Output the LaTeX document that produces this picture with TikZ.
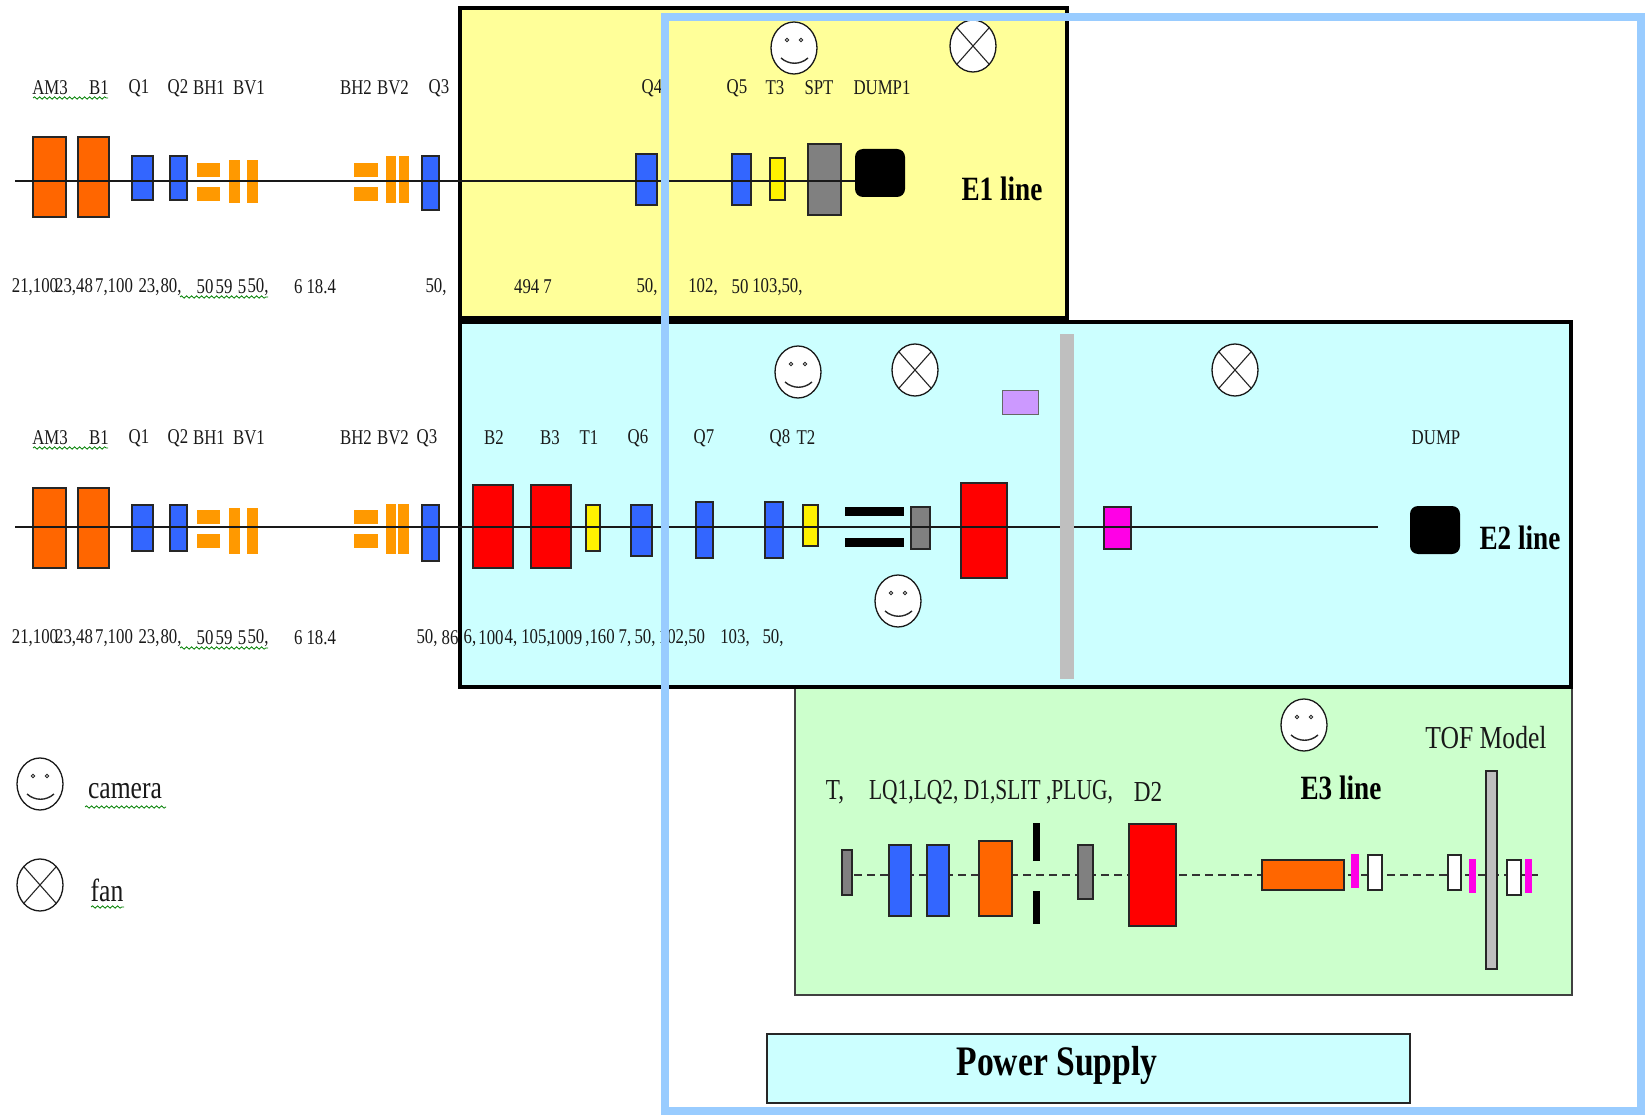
\documentclass[tikz,border=0pt]{standalone}
\usepackage{fontspec}
\setmainfont{Liberation Serif}
\newfontfamily\cond[FakeStretch=0.8]{Liberation Serif}
\newfontfamily\condn[FakeStretch=0.74]{Liberation Serif}
\usetikzlibrary{shapes.geometric,decorations.pathmorphing}
\definecolor{eoneY}{HTML}{FFFF99}
\definecolor{etwoC}{HTML}{CCFFFF}
\definecolor{ethreeG}{HTML}{CCFFCC}
\definecolor{frameB}{HTML}{99CCFF}
\definecolor{magO}{HTML}{FF6600}
\definecolor{corO}{HTML}{FF9900}
\definecolor{quadB}{HTML}{3366FF}
\definecolor{purp}{HTML}{CC99FF}
\definecolor{grayA}{HTML}{808080}
\definecolor{grayB}{HTML}{BFBFBF}
\definecolor{magP}{HTML}{FF00E6}
\tikzset{
 x=1pt,y=-1pt,
 every node/.style={inner sep=0pt,outer sep=0pt},
 magnet/.style={rectangle,draw=black!85,line width=1.6pt,fill=magO},
 corr/.style={rectangle,fill=corO},
 quad/.style={rectangle,draw=black!85,line width=1.6pt,fill=quadB},
 dipole/.style={rectangle,draw=black!85,line width=1.6pt,fill=red},
 target/.style={rectangle,draw=black!85,line width=1.6pt,fill=yellow},
 grayblk/.style={rectangle,draw=black!85,line width=1.6pt,fill=grayA},
 whiteblk/.style={rectangle,draw=black!85,line width=1.6pt,fill=white},
 magblk/.style={rectangle,fill=magP},
 blackblk/.style={rectangle,fill=black},
 dumpblk/.style={rectangle,fill=black,rounded corners=8pt},
 beam/.style={draw=black!90,line width=1.6pt},
 dashbeam/.style={draw=black!80,line width=1.7pt,dash pattern=on 8pt off 5pt},
 lbl/.style={font=\cond\fontsize{21}{23}\selectfont,text=black!90},
 lblb/.style={font=\cond\fontsize{29}{31}\selectfont,text=black!90},
 lbln/.style={font=\condn\fontsize{29}{31}\selectfont,text=black!90},
 lblc/.style={font=\cond\fontsize{32}{34}\selectfont,text=black!90},
 tit/.style={font=\cond\bfseries\fontsize{34}{36}\selectfont,text=black},
 squig/.style={draw=green!50!black,line width=.8pt,decorate,decoration={snake,amplitude=1.2pt,segment length=5pt}},
 icon/.style={ellipse,draw=black!90,line width=1.3pt,fill=white,minimum width=46pt,minimum height=52pt},
}
\newcommand\bx[6]{\node[#1,minimum width={#5-#3},minimum height={#6-#4}] (#2) at ({(#3+#5)/2},{(#4+#6)/2}) {};}
\newcommand\lb[5][lbl]{\node[#1] (#2) at (#3,#4) {#5};}
\newcommand\cam[3]{%
 \node[icon] (#1) at (#2,#3) {};
 \draw[black!85,line width=.9pt] (#2-7,#3-8) circle (1.8pt) (#2+7,#3-8) circle (1.8pt);
 \draw[black!85,line width=1.4pt] (#2-13,#3+10) .. controls (#2-5,#3+17) and (#2+6,#3+17) .. (#2+14,#3+10);}
\newcommand\fan[3]{%
 \node[icon] (#1) at (#2,#3) {};
 \draw[black!85,line width=1.1pt] (#1.north west) -- (#1.south east) (#1.north east) -- (#1.south west);}
\begin{document}
\begin{tikzpicture}
\useasboundingbox[fill=white] (0,0) rectangle (1647,1115);
% panels
\node[rectangle,draw=black,line width=4.5pt,fill=eoneY,minimum width=607,minimum height=310] (panelone) at (763.5,163) {};
\node[rectangle,draw=black!75,line width=1.5pt,fill=ethreeG,minimum width=777,minimum height=307] (panelthree) at (1183.5,841.5) {};
\node[rectangle,draw=black,line width=4pt,fill=etwoC,minimum width=1111,minimum height=365] (paneltwo) at (1015.5,504.5) {};
\node[rectangle,draw=black!85,line width=1.5pt,fill=etwoC,minimum width=643,minimum height=69] (panelfour) at (1088.5,1068.5) {};
% E1 elements
\bx{magnet}{aa}{33}{137}{66}{217}
\bx{magnet}{ab}{78}{137}{109}{217}
\bx{quad}{ac}{132}{156}{153}{200}
\bx{quad}{ad}{170}{156}{187}{200}
\bx{corr}{ae}{197}{163}{220}{177}
\bx{corr}{af}{197}{187}{220}{201}
\bx{corr}{ag}{229}{160}{240}{203}
\bx{corr}{ah}{247}{160}{258}{203}
\bx{corr}{ai}{354}{163}{378}{177}
\bx{corr}{aj}{354}{187}{378}{201}
\bx{corr}{ak}{386}{156}{396}{203}
\bx{corr}{al}{399}{156}{409}{203}
\bx{quad}{am}{422}{156}{439}{210}
\bx{quad}{an}{636}{154}{657}{205}
\bx{quad}{ao}{732}{154}{751}{205}
\bx{target}{ap}{770}{158}{785}{200}
\bx{grayblk}{aq}{808}{144}{841}{215}
\coordinate (ebeamas) at (15,181);
\coordinate (ebeamae) at (860,181);
\draw[beam] (ebeamas) -- (ebeamae);
\node[dumpblk,minimum width=50,minimum height=48] (dumpone) at (880,173) {};
% E2 elements
\bx{magnet}{ba}{33}{488}{66}{568}
\bx{magnet}{bb}{78}{488}{109}{568}
\bx{quad}{bc}{132}{505}{153}{551}
\bx{quad}{bd}{170}{505}{187}{551}
\bx{corr}{be}{197}{510}{220}{524}
\bx{corr}{bf}{197}{534}{220}{548}
\bx{corr}{bg}{229}{508}{240}{554}
\bx{corr}{bh}{247}{508}{258}{554}
\bx{corr}{bi}{354}{510}{378}{524}
\bx{corr}{bj}{354}{534}{378}{548}
\bx{corr}{bk}{386}{504}{396}{554}
\bx{corr}{bl}{398}{504}{409}{554}
\bx{quad}{bm}{422}{505}{439}{561}
\bx{dipole}{bn}{473}{485}{513}{568}
\bx{dipole}{bo}{531}{485}{571}{568}
\bx{target}{bp}{586}{505}{600}{551}
\bx{quad}{bq}{631}{505}{652}{556}
\bx{quad}{br}{696}{502}{713}{558}
\bx{quad}{bs}{765}{502}{783}{558}
\bx{target}{bt}{803}{505}{818}{546}
\bx{grayblk}{bv}{911}{507}{930}{549}
\bx{dipole}{bw}{961}{483}{1007}{578}
\bx{dipole,fill=magP}{bx}{1104}{507}{1131}{549}
\coordinate (ebeambs) at (15,527);
\coordinate (ebeambe) at (1378,527);
\draw[beam] (ebeambs) -- (ebeambe);
\bx{blackblk}{bya}{845}{507}{904}{516}
\bx{blackblk}{byb}{845}{538}{904}{547}
\bx{rectangle,draw=black!60,line width=1pt,fill=purp}{bz}{1002}{390}{1038}{414}
\bx{rectangle,fill=grayB}{wall}{1060}{334}{1074}{679}
\node[dumpblk,minimum width=50,minimum height=48] (dumptwo) at (1435,530) {};
% E3 elements
\coordinate (ebeamcs) at (854,875);
\coordinate (ebeamce) at (1540,875);
\draw[dashbeam] (ebeamcs) -- (ebeamce);
\bx{grayblk}{ca}{842}{850}{852}{895}
\bx{quad}{cb}{889}{845}{911}{916}
\bx{quad}{cc}{927}{845}{949}{916}
\bx{magnet}{cd}{979}{841}{1012}{916}
\bx{blackblk}{ce}{1033}{823}{1040}{861}
\bx{blackblk}{cf}{1033}{891}{1040}{924}
\bx{grayblk}{cg}{1078}{845}{1093}{899}
\bx{dipole}{ch}{1129}{824}{1176}{926}
\bx{magnet}{ci}{1262}{860}{1344}{890}
\bx{magblk}{cj}{1351}{854}{1359}{888}
\bx{whiteblk}{ck}{1368}{855}{1382}{890}
\bx{whiteblk}{cl}{1448}{855}{1461}{890}
\bx{magblk}{cm}{1469}{859}{1476}{893}
\bx{grayblk,fill=grayB}{cn}{1486}{771}{1497}{969}
\bx{whiteblk}{co}{1507}{860}{1521}{895}
\bx{magblk}{cp}{1525}{859}{1532}{893}
% icons
\cam{cama}{794}{48}
\fan{fana}{973}{46}
\cam{camb}{798}{372}
\fan{fanb}{915}{370}
\fan{fanc}{1235}{370}
\cam{camc}{898}{601}
\cam{camd}{1304}{725}
\cam{came}{40}{784}
\fan{fand}{40}{885}
% labels E1
\lb{la}{50}{88}{AM3}\lb{lb}{99}{88}{B1}\lb{lc}{139}{88}{Q1}\lb{ld}{178}{88}{Q2}\lb{le}{209}{88}{BH1}\lb{lf}{249}{88}{BV1}
\lb{lg}{356}{88}{BH2}\lb{lh}{393}{88}{BV2}\lb{li}{439}{88}{Q3}\lb{lj}{652}{88}{Q4}\lb{lk}{737}{88}{Q5}\lb{ll}{775}{88}{T3}\lb{lm}{819}{88}{SPT}\lb{ln}{882}{88}{DUMP1}
\lb{na}{35}{287}{21,100}\lb{nb}{74}{287}{23,48}\lb{nc}{114}{287}{7,100}\lb{nd}{149}{287}{23,}\lb{ne}{171}{287}{80,}\lb{nf}{205}{287}{50}\lb{ng}{224}{287}{59}\lb{nh}{242}{287}{5}\lb{ni}{258}{287}{50,}
\lb{nj}{315}{287}{6 18.4}\lb{nk}{436}{287}{50,}\lb{nl}{533}{287}{494 7}\lb{nm}{647}{287}{50,}\lb{nn}{703}{287}{102,}\lb{no}{740}{287}{50}\lb{np}{767}{287}{103,}\lb{nq}{792}{287}{50,}
% labels E2
\lb{ma}{50}{438}{AM3}\lb{mb}{99}{438}{B1}\lb{mc}{139}{438}{Q1}\lb{md}{178}{438}{Q2}\lb{me}{209}{438}{BH1}\lb{mf}{249}{438}{BV1}
\lb{mg}{356}{438}{BH2}\lb{mh}{393}{438}{BV2}\lb{mi}{427}{438}{Q3}\lb{mj}{494}{438}{B2}\lb{mk}{550}{438}{B3}\lb{ml}{589}{438}{T1}\lb{mm}{638}{438}{Q6}\lb{mn}{704}{438}{Q7}\lb{mo}{780}{438}{Q8}\lb{mp}{806}{438}{T2}\lb{mq}{1436}{438}{DUMP}
\lb{pa}{35}{638}{21,100}\lb{pb}{74}{638}{23,48}\lb{pc}{114}{638}{7,100}\lb{pd}{149}{638}{23,}\lb{pe}{171}{638}{80,}\lb{pf}{205}{638}{50}\lb{ng2}{224}{638}{59}\lb{ph}{242}{638}{5}\lb{pi}{258}{638}{50,}\lb{pj}{315}{638}{6 18.4}
\lb{pk}{427}{638}{50,}\lb{pl}{450}{638}{86}\lb{pm}{470}{638}{6,}\lb{pn}{491}{638}{100}\lb{po}{511}{638}{4,}\lb{pp}{536}{638}{105,}\lb{pq}{561}{638}{100}\lb{pr}{578}{638}{9}\lb{ps}{600}{638}{,160}\lb{pt}{625}{638}{7,}\lb{pu}{645}{638}{50,}\lb{pv}{682}{638}{102,50}\lb{pw}{735}{638}{103,}\lb{px}{773}{638}{50,}
% labels E3
\lb[lblb]{qa}{835}{792}{T,}\lb[lbln]{qb}{991}{792}{LQ1,LQ2, D1,SLIT ,PLUG,}\lb[lblb]{qc}{1148}{792}{D2}\lb[lblc]{qd}{1486}{738}{TOF Model}
\lb[lblc]{qe}{125}{791}{camera}\lb[lblc]{qf}{107}{890}{fan}
\lb[tit]{ta}{1002}{189}{E1 line}\lb[tit]{tb}{1520}{538}{E2 line}\lb[tit]{tc}{1341}{788}{E3 line}
\lb[tit,font=\cond\bfseries\fontsize{42}{44}\selectfont]{td}{1057}{1065}{Power Supply}
% squiggles
\coordinate (sa) at (33,98);\coordinate (sb) at (108,98);\draw[squig] (sa) -- (sb);
\coordinate (sc) at (180,297);\coordinate (sd) at (268,297);\draw[squig] (sc) -- (sd);
\coordinate (se) at (33,448);\coordinate (sf) at (108,448);\draw[squig] (se) -- (sf);
\coordinate (sg) at (180,648);\coordinate (sh) at (268,648);\draw[squig] (sg) -- (sh);
\coordinate (si) at (85,807);\coordinate (sj) at (166,807);\draw[squig] (si) -- (sj);
\coordinate (sk) at (91,907);\coordinate (sl) at (124,907);\draw[squig] (sk) -- (sl);
% blue frame
\node[rectangle,draw=frameB,line width=8pt,minimum width=976,minimum height=1094] (frame) at (1153,564) {};
\end{tikzpicture}
\end{document}
